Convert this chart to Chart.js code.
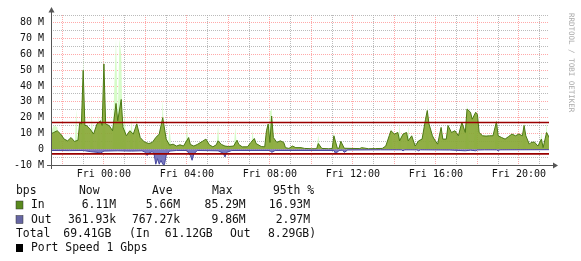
<!DOCTYPE html>
<html><head><meta charset="utf-8">
<script src="https://cdn.jsdelivr.net/npm/chart.js@4.4.1/dist/chart.umd.min.js"></script>
<style>html,body{margin:0;padding:0;background:#fff;overflow:hidden}</style>
</head><body>
<canvas id="c" width="581" height="261"></canvas>
<script>
// ---- time axis (minutes relative to Fri 00:00) ----
const xMin = -153, xMax = 1287;
const xTickLabels = ['Fri 00:00','Fri 04:00','Fri 08:00','Fri 12:00','Fri 16:00','Fri 20:00'];
const yMin = -10, yMax = 85;

// ---- In (average, M bits/s) ----
const inTimes = [-155,-145,-135,-125,-115,-105,-95,-85,-75,-70,
  -65,-60,-55,-50,-40,-30,-20,-10,-5,0,
  5,15,25,35,40,50,55,65,75,85,
  95,105,115,120,130,140,150,160,170,180,
  190,200,210,220,230,245,250,260,270,285,
  295,305,315,325,330,340,350,360,375,385,
  390,400,415,425,435,440,455,465,470,475,
  480,485,490,500,510,520,525,535,545,555,
  570,580,600,615,620,630,650,660,665,675,
  680,685,695,740,745,765,785,805,815,825,
  830,840,850,855,865,875,880,890,900,910,
  920,930,935,940,950,955,965,975,980,990,
  995,1005,1015,1025,1035,1045,1050,1060,1065,1075,
  1080,1085,1095,1105,1115,1125,1135,1140,1150,1160,
  1170,1180,1190,1200,1210,1215,1220,1230,1235,1245,
  1255,1265,1270,1280,1290];
const inValues = [9.6,10.6,11.7,9.6,6.4,5.3,7.4,4.9,5.7,17,
  16,50,15,15,12.8,9.6,16,18,15,54,
  16,15,11.7,29,18,31.5,14,8.5,11.7,9.6,
  16,7.4,5,4.3,3.6,4.3,7.4,9.6,20,6.4,
  2.6,3.2,2,2.8,2,7.4,3,2,3,5,
  6.4,2.8,1.5,2.8,5.3,3,2,1.7,2,5.7,
  3,1.5,1.5,4.3,6.8,3.6,1.7,1.5,11.7,16,
  4.3,21,7.4,4.3,5.3,4.3,1,0.5,2,1,
  1,0.5,0.3,0.3,3.6,0.5,0.3,0.4,8.5,0.6,
  0.6,5,0.6,0.4,1,0.3,0.4,0.5,2,8.5,
  11.7,9.6,10.6,5.3,9.6,10.6,5.3,8.5,2,5.3,
  6.4,19,24.5,16,8.5,6.4,3.2,13.8,6.4,6.4,
  15,10.6,11.7,8.5,17,10.6,25.5,23.4,19,23.4,
  22,10.6,8.5,8.3,8.5,8.5,17.4,8.5,7.4,6.4,
  8,9.6,8.5,9.6,8.5,15,8.5,3.2,4.3,4.5,
  2,6.4,1,10.6,6.4];

// ---- In (peak, M bits/s); low points sit hidden under the average area ----
const maxTimes = [-155,-145,-135,-125,-85,-80,-75,-65,-60,-55,
  -40,-35,-30,-20,-15,-10,-5,0,5,25,
  30,35,40,45,50,55,60,65,75,80,
  85,90,95,100,165,170,175,185,190,195,
  235,240,245,325,330,335,375,380,385,425,
  430,435,475,480,485,490,615,620,625,660,
  665,670,825,830,835,850,855,860,875,880,
  885,930,935,940,1045,1050,1055,1070,1075,1080,
  1130,1135,1140,1210,1215,1220,1260,1265,1270,1275,
  1280,1285];
const maxValues = [10,15,14,0,0,25,0,0,59,0,
  0,22,0,0,22,0,0,58,0,0,
  40,70,20,70,60,0,24,0,0,20,
  0,0,22,0,0,32,0,0,14,0,
  0,14,0,0,15,0,0,14,0,0,
  12,0,0,24,25,0,0,9,0,0,
  11,0,0,14,0,0,16,0,0,15,
  0,0,29,0,0,30,0,0,25,0,
  0,19,0,0,18,0,0,11,0,0,
  17,0];

// ---- Out (negative, M bits/s) ----
const outTimes = [-155,-100,-60,-40,-20,-10,0,40,80,110,
  120,125,130,140,145,150,155,160,165,170,
  175,180,190,210,240,250,255,260,270,330,
  345,350,355,370,480,485,495,665,670,680,
  690,695,705,800,860,865,870,905,910,915,
  1000,1045,1060,1075,1080,1100,1135,1140,1145,1290];
const outValues = [-0.8,-0.9,-0.8,-1.5,-2,-2.5,-1.2,-1,-1.2,-1,
  -2,-4,-2.5,-1.5,-3,-9.5,-6,-9.5,-7,-9.5,
  -9.8,-4,-1.2,-0.8,-0.8,-4,-7,-3,-0.8,-1,
  -2.5,-4.9,-2,-0.8,-0.8,-2,-0.8,-0.8,-2.8,-0.8,
  -0.6,-2,-0.5,-0.4,-0.4,-1,-0.4,-0.4,-1,-0.4,
  -0.5,-1,-0.6,-1,-0.5,-0.4,-0.4,-1,-0.4,-0.3];

// ---- 95th percentile ----
const inP95 = 16.93, outP95 = -2.97;

// ---- legend texts ----
const statHeaders = ['bps','Now','Ave','Max','95th %'];
const inStats = ['6.11M','5.66M','85.29M','16.93M'];
const outStats = ['361.93k','767.27k','9.86M','2.97M'];
const totalTexts = ['Total','69.41GB','(In','61.12GB','Out','8.29GB)'];
const portText = 'Port Speed 1 Gbps';
const watermark = 'RRDTOOL / TOBI OETIKER';

const pts = (ts, vs) => ts.map((t, i) => ({x: t, y: vs[i]}));
const MONO = '"DejaVu Sans Mono", monospace';

const decor = {
  id: 'decor',
  afterDatasetsDraw(chart) {
    const ctx = chart.ctx, x = chart.scales.x, y = chart.scales.y;
    const L = x.left, R = x.right, B = y.getPixelForValue(yMin);
    ctx.save();
    ctx.strokeStyle = '#555'; ctx.fillStyle = '#555'; ctx.lineWidth = 1;
    ctx.beginPath(); ctx.moveTo(L + 0.5, B + 4); ctx.lineTo(L + 0.5, 11); ctx.stroke();
    ctx.beginPath(); ctx.moveTo(L - 2.5, 12.5); ctx.lineTo(L + 3.5, 12.5); ctx.lineTo(L + 0.5, 7); ctx.closePath(); ctx.fill();
    ctx.beginPath(); ctx.moveTo(L - 4, B + 0.5); ctx.lineTo(R + 5, B + 0.5); ctx.stroke();
    ctx.beginPath(); ctx.moveTo(R + 4, B - 2.5); ctx.lineTo(R + 4, B + 3.5); ctx.lineTo(R + 9, B + 0.5); ctx.closePath(); ctx.fill();
    ctx.restore();
  },
  afterDraw(chart) {
    const ctx = chart.ctx;
    ctx.save();
    ctx.fillStyle = '#aaa';
    ctx.font = '7.5px ' + MONO;
    ctx.translate(571, 13); ctx.rotate(Math.PI / 2);
    ctx.textBaseline = 'middle'; ctx.textAlign = 'left';
    ctx.fillText(watermark, 0, 0);
    ctx.restore();

    ctx.save();
    ctx.font = '11.4px ' + MONO;
    ctx.fillStyle = '#111';
    ctx.textBaseline = 'middle';
    const rows = [191, 205.5, 219.8, 234, 248.3];
    ctx.textAlign = 'left';
    const hx = [16, 79, 152, 212, 273];
    statHeaders.forEach((t, i) => ctx.fillText(t, hx[i], rows[0]));
    const rx = [116, 180, 245.7, 310];
    ctx.fillStyle = '#5a8a1e'; ctx.fillRect(16, 201, 7, 8);
    ctx.strokeStyle = '#333'; ctx.lineWidth = 0.5; ctx.strokeRect(16, 201, 7, 8);
    ctx.fillStyle = '#111'; ctx.textAlign = 'left'; ctx.fillText('In', 31, rows[1]);
    ctx.textAlign = 'right'; inStats.forEach((t, i) => ctx.fillText(t, rx[i], rows[1]));
    ctx.fillStyle = '#6666a3'; ctx.fillRect(16, 215.5, 7, 8);
    ctx.strokeRect(16, 215.5, 7, 8);
    ctx.fillStyle = '#111'; ctx.textAlign = 'left'; ctx.fillText('Out', 31, rows[2]);
    ctx.textAlign = 'right'; outStats.forEach((t, i) => ctx.fillText(t, rx[i], rows[2]));
    ctx.textAlign = 'left';
    const tx = [16, 63.3, 129, 164.7, 230, 268];
    totalTexts.forEach((t, i) => ctx.fillText(t, tx[i], rows[3]));
    ctx.fillStyle = '#000'; ctx.fillRect(16, 244, 7, 8);
    ctx.fillStyle = '#111'; ctx.fillText(portText, 31, rows[4]);
    ctx.restore();
  }
};

new Chart(document.getElementById('c'), {
  type: 'line',
  data: {
    datasets: [
      {label: 'In 95th', data: [{x: xMin, y: inP95}, {x: xMax, y: inP95}], borderColor: '#9a0000', borderWidth: 1.6, pointRadius: 0, fill: false, order: 0},
      {label: 'Out 95th', data: [{x: xMin, y: outP95}, {x: xMax, y: outP95}], borderColor: '#9a0000', borderWidth: 1.6, pointRadius: 0, fill: false, order: 0},
      {label: 'Out', data: pts(outTimes, outValues), borderColor: '#4848a0', backgroundColor: 'rgba(110,110,185,0.92)', borderWidth: 1, pointRadius: 0, fill: 'origin', order: 1},
      {label: 'In', data: pts(inTimes, inValues), borderColor: '#4b7813', backgroundColor: 'rgba(136,168,54,0.92)', borderWidth: 1, pointRadius: 0, fill: 'origin', order: 2},
      {label: 'In peak', data: pts(maxTimes, maxValues), borderColor: 'rgba(0,0,0,0)', backgroundColor: '#d6fcc8', borderWidth: 0, pointRadius: 0, fill: 'origin', order: 3}
    ]
  },
  options: {
    responsive: false, animation: false, devicePixelRatio: 1,
    layout: {padding: {left: 0, right: 32, top: 15, bottom: 76}},
    plugins: {legend: {display: false}, tooltip: {enabled: false}},
    elements: {line: {tension: 0}},
    scales: {
      x: {
        type: 'linear', min: xMin, max: xMax,
        afterBuildTicks: s => { const t = []; for (let v = -120; v <= 1260; v += 60) t.push({value: v}); s.ticks = t; },
        afterFit: s => { s.height = 20; },
        ticks: {autoSkip: false, maxRotation: 0, padding: 3, color: '#111', font: {family: MONO, size: 10},
          callback: v => (v % 240 === 0 && v >= 0) ? xTickLabels[v / 240] : ''},
        grid: {drawTicks: false, lineWidth: 1,
          color: c => (c.tick && Math.abs(c.tick.value / 60) % 2 === 0) ? 'rgba(255,140,140,0.75)' : 'rgba(170,170,170,0.8)'},
        border: {display: false, dash: [1, 1]}
      },
      y: {
        type: 'linear', min: yMin, max: yMax,
        afterBuildTicks: s => { const t = []; for (let v = yMin; v <= yMax; v += 5) t.push({value: v}); s.ticks = t; },
        afterFit: s => { s.width = 51; },
        ticks: {autoSkip: false, padding: 7, color: '#111', font: {family: MONO, size: 10},
          callback: v => (v % 10 === 0) ? (v === 0 ? '0' : v + ' M') : ''},
        grid: {drawTicks: false, lineWidth: 1,
          color: c => (c.tick && c.tick.value === yMin) ? 'rgba(0,0,0,0)' : ((c.tick && c.tick.value % 10 === 0) ? 'rgba(255,140,140,0.75)' : 'rgba(170,170,170,0.8)')},
        border: {display: false, dash: [1, 1]}
      }
    }
  },
  plugins: [decor]
});
</script>
</body></html>
